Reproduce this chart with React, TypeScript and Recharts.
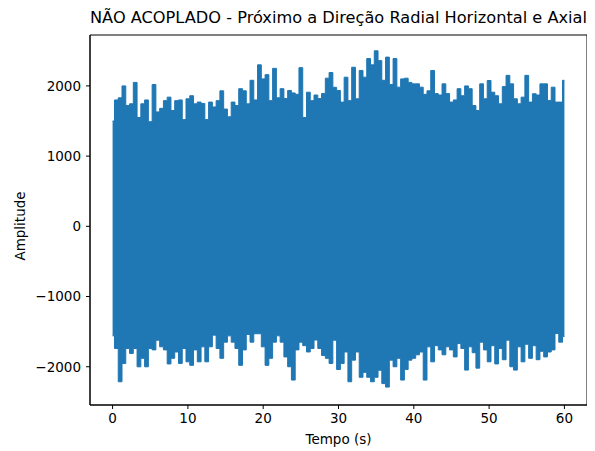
import { ComposedChart, Area, XAxis, YAxis, ReferenceArea } from 'recharts';

// instantes (s) em que o envelope foi lido
const tempo = [
  0, 0.5, 1, 1.5, 2, 2.5, 3, 3.5, 4, 4.5, 5, 5.5, 6, 6.5, 7, 7.5, 8, 8.5, 9, 9.5,
  10, 10.5, 11, 11.5, 12, 12.5, 13, 13.5, 14, 14.5, 15, 15.5, 16, 16.5, 17, 17.5, 18, 18.5, 19, 19.5,
  20, 20.5, 21, 21.5, 22, 22.5, 23, 23.5, 24, 24.5, 25, 25.5, 26, 26.5, 27, 27.5, 28, 28.5, 29, 29.5,
  30, 30.5, 31, 31.5, 32, 32.5, 33, 33.5, 34, 34.5, 35, 35.5, 36, 36.5, 37, 37.5, 38, 38.5, 39, 39.5,
  40, 40.5, 41, 41.5, 42, 42.5, 43, 43.5, 44, 44.5, 45, 45.5, 46, 46.5, 47, 47.5, 48, 48.5, 49, 49.5,
  50, 50.5, 51, 51.5, 52, 52.5, 53, 53.5, 54, 54.5, 55, 55.5, 56, 56.5, 57, 57.5, 58, 58.5, 59, 59.5,
  60
];

// picos positivos do sinal
const envelopeSuperior = [
  1500, 1800, 1830, 2000, 1720, 1745, 2050, 1550, 1745, 1800, 1490, 2020, 1630, 1680, 1790, 1840, 1650, 1790, 1800, 1520,
  1816, 1860, 1745, 1770, 1750, 1520, 1770, 1700, 1790, 1930, 1670, 1560, 1770, 1720, 1960, 1930, 1745, 2080, 1800, 2300,
  2100, 2160, 1790, 2250, 1830, 1960, 1820, 1935, 1900, 1880, 2260, 1550, 1910, 1790, 1870, 1820, 1890, 2110, 2190, 1980,
  1935, 1769, 2124, 1790, 2266, 1816, 2220, 2124, 2390, 2300, 2500, 2360, 2080, 2410, 2020, 2390, 1982, 2100, 2110, 2050,
  2029, 2029, 1982, 1880, 1930, 2220, 1890, 1870, 2029, 1890, 1769, 1800, 1960, 1860, 2000, 1960, 1720, 1650, 2029, 1816,
  2077, 1910, 1860, 1745, 1990, 2150, 2029, 1816, 1745, 1840, 2150, 1769, 1888, 1870, 2029, 2029, 1793, 1982, 1769, 1769,
  2080
];

// picos negativos do sinal
const envelopeInferior = [
  -1560, -1740, -2214, -1953, -1740, -1810, -1740, -2001, -1880, -2001, -1740, -1760, -1622, -1716, -1760, -1960, -1880, -1790, -1953, -1740,
  -1930, -1980, -1760, -1930, -1716, -1930, -1716, -1550, -1740, -1880, -1650, -1560, -1650, -1740, -1980, -1760, -1540, -1650, -1530, -1530,
  -1716, -1980, -1880, -1650, -1560, -1650, -1860, -2000, -2190, -1760, -1650, -1700, -1790, -1740, -1620, -1740, -1840, -1880, -1953, -1622,
  -2040, -1953, -1790, -2214, -1906, -1790, -2150, -2080, -2150, -2214, -2150, -2050, -2240, -2290, -1906, -2000, -1880, -2190, -2040, -1906,
  -1880, -1830, -1790, -2190, -1716, -1930, -1700, -1760, -1830, -1716, -1760, -1860, -1670, -1740, -2048, -1716, -1800, -2020, -1650, -1760,
  -1930, -1700, -1960, -1740, -1900, -1622, -2000, -2048, -1716, -1930, -1680, -1880, -1700, -1900, -1780, -1860, -1790, -1760, -1527, -1650,
  -1570
];

const ticksX = [0, 10, 20, 30, 40, 50, 60];
const ticksY = [-2000, -1000, 0, 1000, 2000];

const dados = tempo.map((t, i) => ({ t, faixa: [envelopeInferior[i], envelopeSuperior[i]] }));

const fonte = 'DejaVu Sans, sans-serif';
const azul = '#1f77b4';
const menos = (v: number) => String(v).replace('-', '\u2212');

export default function App() {
  return (
    <div style={{ position: 'relative', width: 587, height: 443, fontFamily: fonte, color: '#000' }}>
      {/* faixa larga centrada no meio do eixo x, para o título não transbordar só à direita */}
      <div style={{ position: 'absolute', left: 0, width: 661, top: 1, textAlign: 'center', fontSize: 16.2, lineHeight: '18px', whiteSpace: 'nowrap' }}>
        NÃO ACOPLADO - Próximo a Direção Radial Horizontal e Axial
      </div>
      <ComposedChart width={587} height={443} data={dados} margin={{ top: 27, right: 8, left: 22, bottom: 0 }}>
        <XAxis
          dataKey="t"
          type="number"
          domain={[-3, 63]}
          ticks={ticksX}
          height={46}
          tickSize={4}
          tickMargin={4}
          stroke="#000"
          tick={{ fill: '#000', fontSize: 13.5, fontFamily: fonte }}
        />
        <YAxis
          type="number"
          domain={[-2545, 2725]}
          ticks={ticksY}
          width={60}
          tickSize={4}
          tickMargin={5}
          stroke="#000"
          tickFormatter={menos}
          tick={{ fill: '#000', fontSize: 13.5, fontFamily: fonte }}
        />
        <Area
          dataKey="faixa"
          type="step"
          stroke={azul}
          strokeWidth={1}
          fill={azul}
          fillOpacity={1}
          isAnimationActive={false}
          dot={false}
          activeDot={false}
        />
        <ReferenceArea x1={-3} x2={63} y1={-2545} y2={2725} fill="none" stroke="#000" strokeWidth={1} ifOverflow="extendDomain" />
      </ComposedChart>
      <div style={{ position: 'absolute', left: 82, width: 497, top: 422, textAlign: 'center', fontSize: 13.5, lineHeight: '18px' }}>
        Tempo (s)
      </div>
      <div style={{ position: 'absolute', left: 12, top: 218, width: 0, height: 0 }}>
        <div style={{ position: 'absolute', transform: 'translate(-50%, -50%) rotate(-90deg)', fontSize: 13.5, lineHeight: '18px', whiteSpace: 'nowrap' }}>
          Amplitude
        </div>
      </div>
    </div>
  );
}
